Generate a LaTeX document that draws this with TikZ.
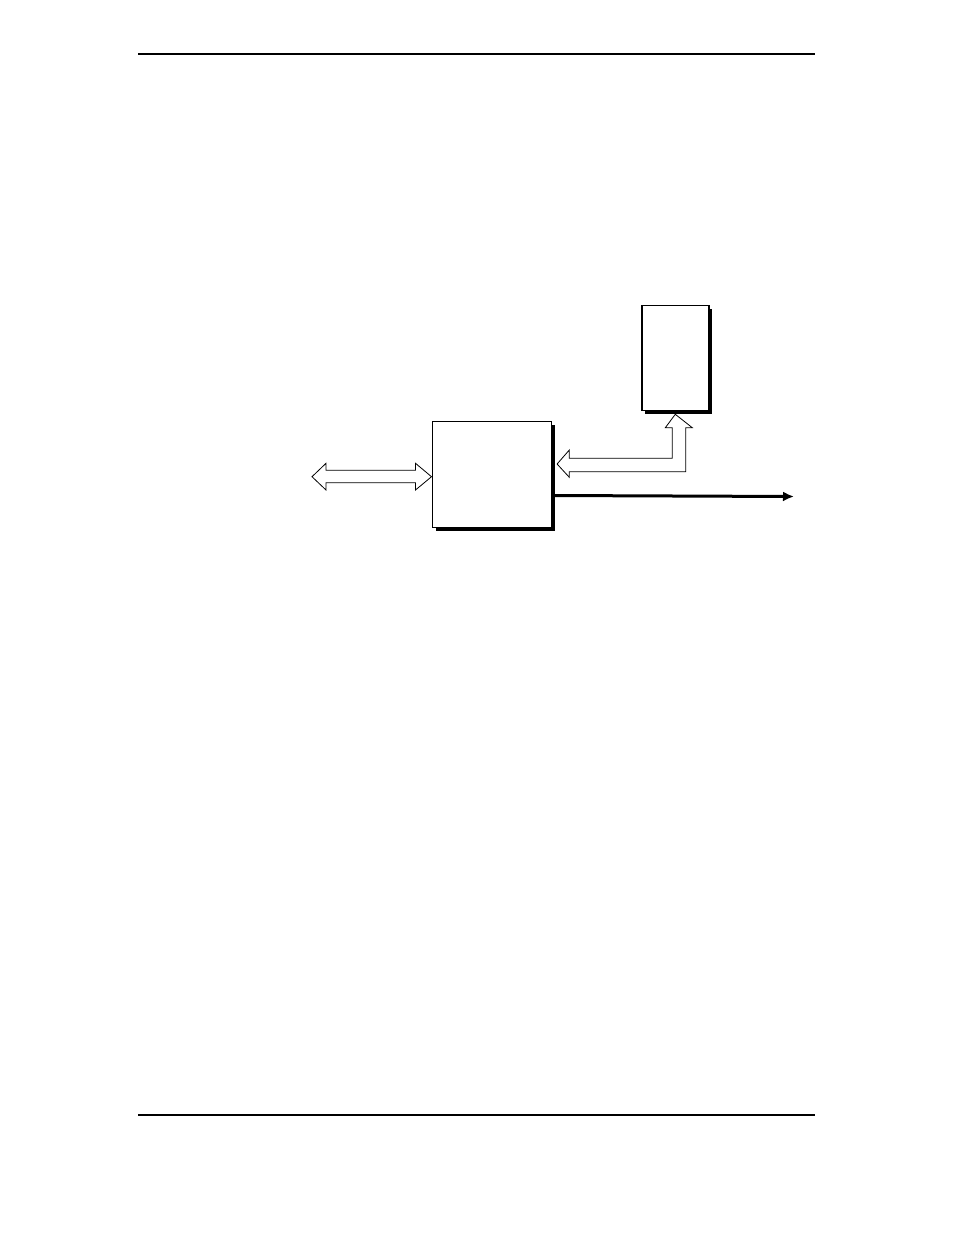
\documentclass[tikz,border=0pt]{standalone}
\usetikzlibrary{arrows.meta}
\begin{document}
\begin{tikzpicture}[x=1pt,y=-1pt,
  boxstyle/.style={draw=black,line width=1.6pt,fill=white,inner sep=0pt,anchor=north west},
  shadowstyle/.style={fill=black,draw=none,inner sep=0pt,anchor=north west},
  hollow/.style={draw=black,line width=0.8pt,fill=white,line join=miter},
  rule/.style={line width=2pt}]
\useasboundingbox (0,0) rectangle (954,1235);
% page rules
\coordinate (t1) at (138,54); \coordinate (t2) at (815,54);
\coordinate (b1) at (138,1115); \coordinate (b2) at (815,1115);
\draw[rule] (t1) -- (t2);
\draw[rule] (b1) -- (b2);
% shadows
\node[shadowstyle,minimum width=119pt,minimum height=106pt] (mainsh) at (435.5,424.5) {};
\node[shadowstyle,minimum width=67pt,minimum height=105pt] (memsh) at (645,308.5) {};
% boxes
\node[boxstyle,minimum width=119pt,minimum height=106pt] (main) at (431.5,420.5) {};
\node[boxstyle,minimum width=67pt,minimum height=105pt] (mem) at (641,304.5) {};
% left double hollow arrow
\draw[hollow] (312,476.7) -- (326,463.3) -- (326,470.3) -- (415.5,470.3) -- (415.5,463.3)
  -- (main.west |- 0,476.7) -- (415.5,490) -- (415.5,482.7) -- (326,482.7) -- (326,490) -- cycle;
% L-shaped hollow arrow between main and memory
\coordinate (ltip) at ([xshift=5pt]main.east |- 0,464);
\coordinate (utip) at (mem.south |- 0,414.3);
\draw[hollow] (ltip) -- (569.3,450) -- (569.3,458.3) -- (672.3,458.3) -- (672.3,427.7) -- (665.3,427.7)
  -- (utip) -- (692.3,427.7) -- (685.7,427.7) -- (685.7,471.7) -- (569.3,471.7)
  -- (569.3,477.3) -- cycle;
% output arrow
\coordinate (outstart) at ([xshift=3pt]main.east |- 0,495.5);
\coordinate (outend) at (794,496.5);
\draw[line width=3pt,-{Latex[length=11pt,width=10pt]}] (outstart) -- (outend);
\end{tikzpicture}
\end{document}
